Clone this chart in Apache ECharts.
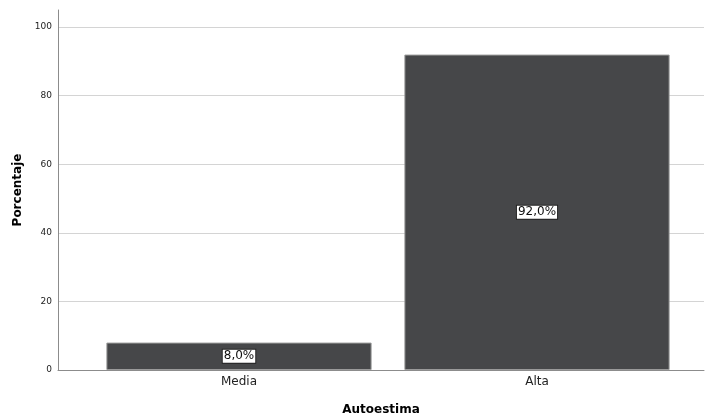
<!DOCTYPE html>
<html><head><meta charset="utf-8">
<script src="https://cdn.jsdelivr.net/npm/echarts@6/dist/echarts.min.js"></script>
<style>html,body{margin:0;padding:0;background:#fff}#c{width:705px;height:416px}</style>
</head><body><div id="c"></div>
<script>
const categories = ['Media', 'Alta'];
const values = [8.0, 92.0];
const yTicks = [0, 20, 40, 60, 80, 100];

const chart = echarts.init(document.getElementById('c'));
const font = 'DejaVu Sans, sans-serif';
chart.setOption({
  animation: false,
  grid: [
    {left: 58, right: 1, top: 10, bottom: 46, outerBoundsMode: 'none', containLabel: false},
    {left: 90, right: 19, top: 10, bottom: 46, outerBoundsMode: 'none', containLabel: false}
  ],
  xAxis: [
    {gridIndex: 0, type: 'category', data: categories, axisLine: {lineStyle: {color: '#8c8c8c'}},
     axisTick: {show: false}, axisLabel: {show: false},
     name: 'Autoestima', nameLocation: 'middle', nameGap: 34,
     nameTextStyle: {fontFamily: font, fontWeight: 'bold', fontSize: 12, color: '#000'}},
    {gridIndex: 1, type: 'category', data: categories, axisLine: {show: false},
     axisTick: {show: false},
     axisLabel: {fontFamily: font, fontSize: 12, color: '#222', margin: 6}}
  ],
  yAxis: [
    {gridIndex: 0, type: 'value', min: 0, max: 105, interval: 20,
     axisLine: {show: true, lineStyle: {color: '#8c8c8c'}},
     axisTick: {show: false},
     axisLabel: {fontFamily: font, fontSize: 9, color: '#222', margin: 6, showMaxLabel: false,
       formatter: v => yTicks.includes(v) ? String(v) : ''},
     splitLine: {showMaxLine: false, lineStyle: {color: '#d4d4d4'}},
     name: 'Porcentaje', nameLocation: 'middle', nameGap: 34, nameRotate: 90,
     nameTextStyle: {fontFamily: font, fontWeight: 'bold', fontSize: 12, color: '#000'}},
    {gridIndex: 1, type: 'value', min: 0, max: 105, show: false, splitLine: {show: false}}
  ],
  series: [{
    type: 'bar', xAxisIndex: 1, yAxisIndex: 1, data: values, barWidth: '89%',
    itemStyle: {color: '#464749', borderColor: '#9a9a9a', borderWidth: 1},
    label: {show: true, position: 'inside', formatter: p => p.value.toFixed(1).replace('.', ',') + '%',
      fontFamily: font, fontSize: 12, color: '#111', backgroundColor: '#fff',
      borderColor: '#222', borderWidth: 1, padding: [1, 1, 0, 1]}
  }]
});
</script></body></html>
